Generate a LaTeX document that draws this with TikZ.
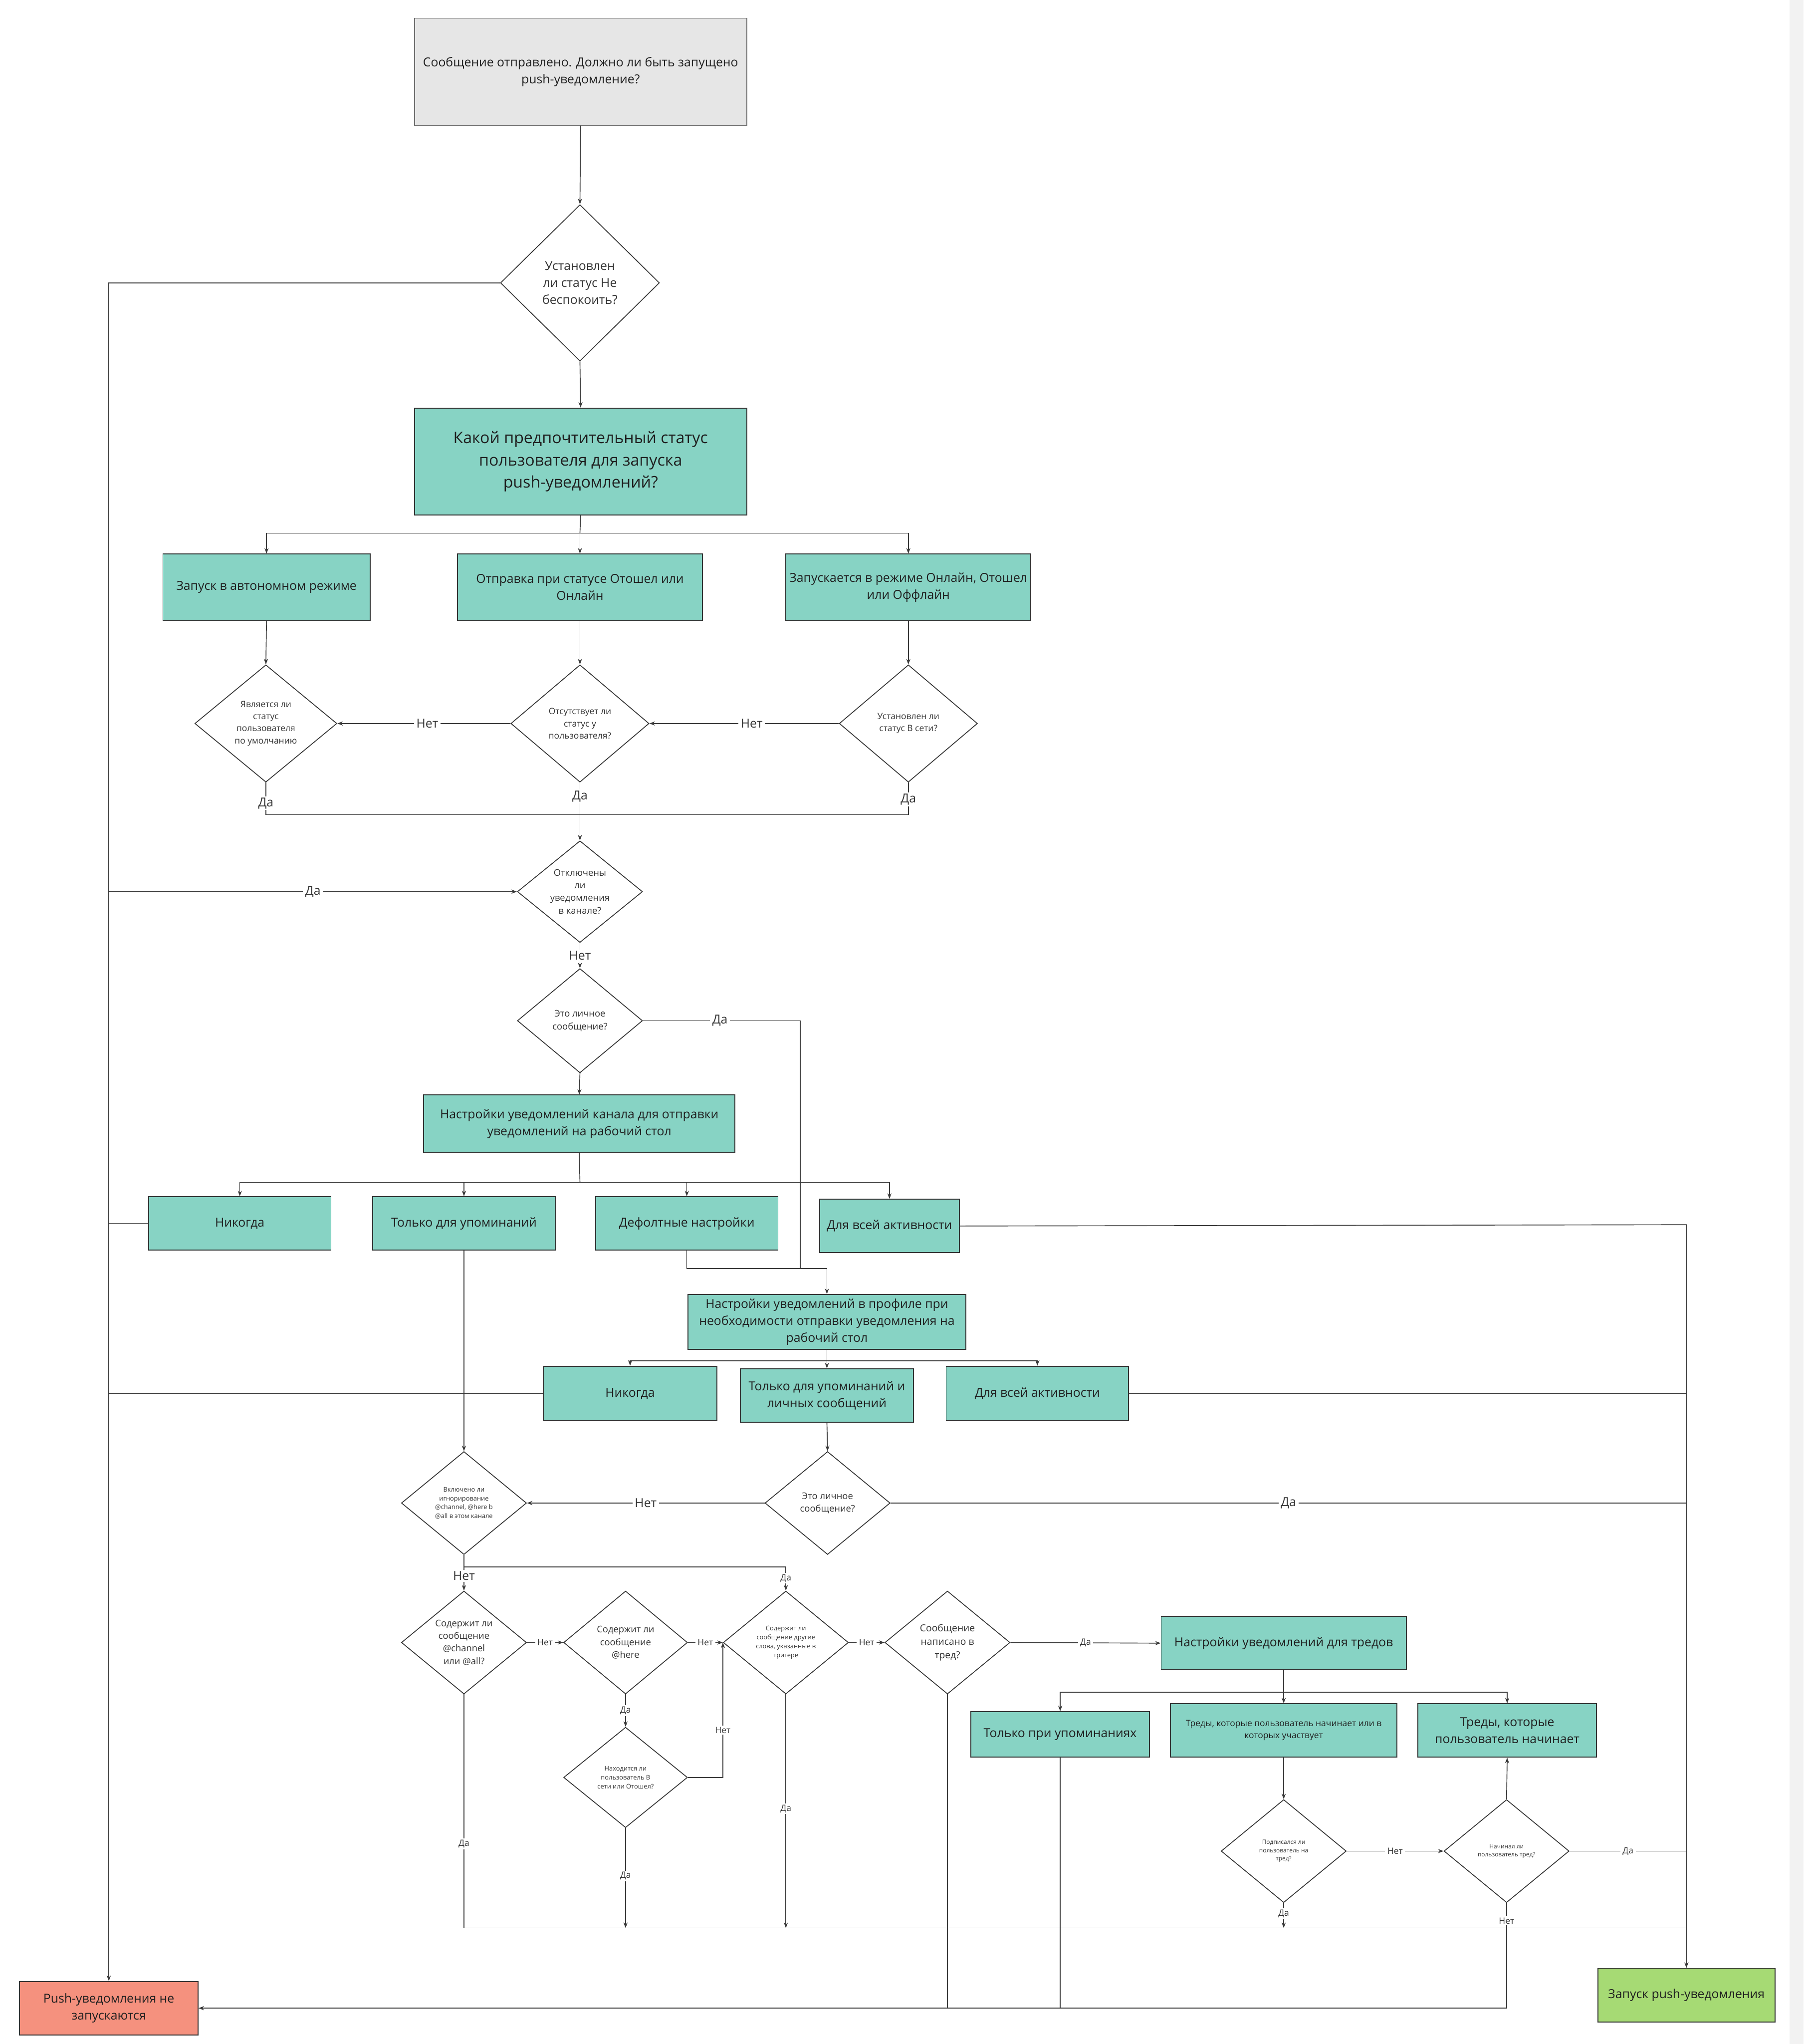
\documentclass[tikz,border=0pt]{standalone}
\usepackage{fontspec}
\setmainfont{Open Sans}
\usetikzlibrary{shapes.geometric,arrows.meta,calc}
\definecolor{boxteal}{HTML}{87D3C4}
\definecolor{topgray}{HTML}{E6E6E6}
\definecolor{redbox}{HTML}{F5917E}
\definecolor{greenbox}{HTML}{A6DA74}
\definecolor{lc}{HTML}{3A3A3A}
\definecolor{bc}{HTML}{333333}
\definecolor{tc}{HTML}{1F1F1F}
\definecolor{dtc}{HTML}{333333}
\definecolor{strip}{HTML}{F2F2F2}
\newcommand\fsz[1]{\fontsize{#1}{\fpeval{1.38*#1}}\selectfont}
\tikzset{
  line/.style={draw=lc, line width=1.8pt},
  arr/.style={line, -{Stealth[length=12pt,width=9pt]}},
  box/.style={rectangle, draw=bc, line width=2pt, fill=boxteal, align=center, text=tc, inner sep=0pt, font=\fsz{27}},
  dia/.style={diamond, draw=bc, line width=1.8pt, fill=white, inner sep=0pt},
  dt/.style={align=center, text=dtc, inner sep=0pt},
  lbl/.style={fill=white, inner xsep=5pt, inner ysep=3pt, text=dtc},
  big/.style={font=\fsz{27}},
  small/.style={font=\fsz{19}},
}
\begin{document}
\begin{tikzpicture}[x=1mm,y=-1mm]
\useasboundingbox (0,0) rectangle (1384,1568);
\fill[white] (0,0) rectangle (1384,1568);
\fill[strip] (1373,0) rectangle (1384,1568);

% ---------- nodes ----------
\node[box, fill=topgray, draw=bc!70, minimum width=255mm, minimum height=82mm] (top) at (445.5,55)
  {Сообщение отправлено. Должно ли быть запущено\\push-уведомление?};
\node[dia, minimum width=122mm, minimum height=120mm] (dnd) at (445,217) {};
\node[dt, font=\fsz{27}] (dndt) at (dnd) {Установлен\\ли статус Не\\беспокоить?};
\node[box, font=\fsz{35}, minimum width=255mm, minimum height=82mm] (pref) at (445.5,354)
  {Какой предпочтительный статус\\пользователя для запуска\\push-уведомлений?};

\node[box, minimum width=159mm, minimum height=51mm] (b1) at (204.5,450.5) {Запуск в автономном режиме};
\node[box, minimum width=188mm, minimum height=51mm] (b2) at (445,450.5) {Отправка при статусе Отошел или\\Онлайн};
\node[box, minimum width=188mm, minimum height=51mm] (b3) at (697,450.5) {Запускается в режиме Онлайн, Отошел\\или Оффлайн};

\node[dia, minimum width=109mm, minimum height=90mm] (d1) at (204,555) {};
\node[dt, font=\fsz{19}] (d1t) at (d1) {Является ли\\статус\\пользователя\\по умолчанию};
\node[dia, minimum width=106mm, minimum height=90mm] (d2) at (445,555) {};
\node[dt, font=\fsz{19}] (d2t) at (d2) {Отсутствует ли\\статус у\\пользователя?};
\node[dia, minimum width=106mm, minimum height=90mm] (d3) at (697,555) {};
\node[dt, font=\fsz{19}] (d3t) at (d3) {Установлен ли\\статус В сети?};

\node[dia, minimum width=96mm, minimum height=78mm] (d4) at (445,684) {};
\node[dt, font=\fsz{20}] (d4t) at (d4) {Отключены\\ли\\уведомления\\в канале?};
\node[dia, minimum width=96mm, minimum height=80mm] (d5) at (445,783) {};
\node[dt, font=\fsz{20}] (d5t) at (d5) {Это личное\\сообщение?};

\node[box, minimum width=239mm, minimum height=44mm] (chan) at (444.5,862)
  {Настройки уведомлений канала для отправки\\уведомлений на рабочий стол};
\node[box, minimum width=140mm, minimum height=41mm] (n1) at (184,938.5) {Никогда};
\node[box, minimum width=140mm, minimum height=41mm] (n2) at (356,938.5) {Только для упоминаний};
\node[box, minimum width=140mm, minimum height=41mm] (n3) at (527,938.5) {Дефолтные настройки};
\node[box, minimum width=107mm, minimum height=41mm] (n4) at (682.5,940.5) {Для всей активности};

\node[box, minimum width=213mm, minimum height=42mm] (prof) at (634.5,1014)
  {Настройки уведомлений в профиле при\\необходимости отправки уведомления на\\рабочий стол};
\node[box, minimum width=133mm, minimum height=42mm] (p1) at (483.5,1069) {Никогда};
\node[box, minimum width=133mm, minimum height=41mm] (p2) at (634.5,1070.5) {Только для упоминаний и\\личных сообщений};
\node[box, minimum width=140mm, minimum height=42mm] (p3) at (796,1069) {Для всей активности};

\node[dia, minimum width=96mm, minimum height=79mm] (d6) at (356,1153) {};
\node[dt, font=\fsz{14}] (d6t) at (d6) {Включено ли\\игнорирование\\@channel, @here b\\@all в этом канале};
\node[dia, minimum width=96mm, minimum height=79mm] (d7) at (635,1153) {};
\node[dt, font=\fsz{20}] (d7t) at (d7) {Это личное\\сообщение?};

\node[dia, minimum width=96mm, minimum height=79mm] (d8) at (356,1260) {};
\node[dt, font=\fsz{20}] (d8t) at (d8) {Содержит ли\\сообщение\\@channel\\или @all?};
\node[dia, minimum width=95mm, minimum height=79mm] (d9) at (480,1260) {};
\node[dt, font=\fsz{20}] (d9t) at (d9) {Содержит ли\\сообщение\\@here};
\node[dia, minimum width=96mm, minimum height=79mm] (d10) at (603,1260) {};
\node[dt, font=\fsz{14}] (d10t) at (d10) {Содержит ли\\сообщение другие\\слова, указанные в\\тригере};
\node[dia, minimum width=96mm, minimum height=79mm] (d11) at (727,1260) {};
\node[dt, font=\fsz{21}] (d11t) at (d11) {Сообщение\\написано в\\тред?};
\node[dia, minimum width=95mm, minimum height=77mm] (d12) at (480,1363.5) {};
\node[dt, font=\fsz{14}] (d12t) at (d12) {Находится ли\\пользователь В\\сети или Отошел?};

\node[box, minimum width=188mm, minimum height=41mm] (thr) at (985,1260.5) {Настройки уведомлений для тредов};
\node[box, minimum width=137mm, minimum height=35mm] (t1) at (813.5,1330.5) {Только при упоминаниях};
\node[box, font=\fsz{19}, minimum width=174mm, minimum height=41mm] (t2) at (985,1327.5) {Треды, которые пользователь начинает или в\\которых участвует};
\node[box, minimum width=137mm, minimum height=41mm] (t3) at (1156.5,1327.5) {Треды, которые\\пользователь начинает};

\node[dia, minimum width=96mm, minimum height=79mm] (d13) at (985,1420) {};
\node[dt, font=\fsz{13}] (d13t) at (d13) {Подписался ли\\пользователь на\\тред?};
\node[dia, minimum width=96mm, minimum height=79mm] (d14) at (1156,1420) {};
\node[dt, font=\fsz{13}] (d14t) at (d14) {Начинал ли\\пользователь тред?};

\node[box, fill=redbox, minimum width=137mm, minimum height=41mm] (red) at (83.5,1540.5) {Push-уведомления не\\запускаются};
\node[box, fill=greenbox, minimum width=136mm, minimum height=41mm] (green) at (1294,1530.5) {Запуск push-уведомления};

% ---------- helper coordinates ----------
\coordinate (L1) at (83.5,217);
\coordinate (R1) at (1294,939.5);
\coordinate (s1) at (445,409);
\coordinate (j1) at (445,625);
\coordinate (k1) at (614,973);
\coordinate (s2) at (445,907);
\coordinate (s3) at (634.5,1044);
\coordinate (s4) at (356,1202);
\coordinate (B1) at (356,1479);
\coordinate (s5) at (985,1298);

% ---------- connectors ----------
\draw[arr] (top.south) -- (dnd.north);
\draw[arr] (dnd.south) -- (pref.north);
\draw[line] (pref.south) -- (s1);
\draw[arr] (s1) -| (b1.north);
\draw[arr] (s1) -- (b2.north);
\draw[arr] (s1) -| (b3.north);
\draw[arr] (b1.south) -- (d1.north);
\draw[arr] (b2.south) -- (d2.north);
\draw[arr] (b3.south) -- (d3.north);
\draw[arr] (d3.west) -- node[lbl,big,pos=0.46]{Нет} (d2.east);
\draw[arr] (d2.west) -- node[lbl,big,pos=0.48]{Нет} (d1.east);
\draw[line] (d1.south) -- node[lbl,big,pos=0.64]{Да} (d1.south |- j1) -- (j1);
\draw[line] (d3.south) -- node[lbl,big,pos=0.52]{Да} (d3.south |- j1) -- (j1);
\draw[arr] (d2.south) -- node[lbl,big,pos=0.24]{Да} (d4.north);

\draw[arr] (dnd.west) -- (L1) -- (red.north);
\draw[arr] (d4.west -| L1) -- node[lbl,big]{Да} (d4.west);
\draw[arr] (d4.south) -- node[lbl,big]{Нет} (d5.north);
\draw[line] (d5.east) -- node[lbl,big,pos=0.49]{Да} (d5.east -| k1) -- (k1);
\draw[arr] (d5.south) -- (chan.north);
\draw[line] (chan.south) -- (s2);
\draw[arr] (s2) -| (n1.north);
\draw[arr] (s2) -| (n2.north);
\draw[arr] (s2) -| (n3.north);
\draw[arr] (s2) -| (n4.north);
\draw[line] (n1.west) -- (n1.west -| L1);
\draw[arr] (n2.south) -- (d6.north);
\draw[arr] (n3.south) |- (prof.north |- k1) -- (prof.north);
\draw[arr] (n4.east) -- (R1) -- (green.north);

\draw[line] (prof.south) -- (s3);
\draw[arr] (s3) -| (p1.north);
\draw[arr] (s3) -- (p2.north);
\draw[arr] (s3) -| (p3.north);
\draw[line] (p1.west) -- (p1.west -| L1);
\draw[line] (p3.east) -- (p3.east -| R1);
\draw[arr] (p2.south) -- (d7.north);
\draw[arr] (d7.west) -- node[lbl,big]{Нет} (d6.east);
\draw[line] (d7.east) -- node[lbl,big]{Да} (d7.east -| R1);

\draw[arr] (d6.south) -- node[lbl,big,pos=0.59]{Нет} (d8.north);
\draw[arr] (s4) -| node[lbl,small,pos=0.74]{Да} (d10.north);
\draw[arr] (d8.east) -- node[lbl,small]{Нет} (d9.west);
\draw[arr] (d9.east) -- node[lbl,small]{Нет} (d10.west);
\draw[arr] (d10.east) -- node[lbl,small]{Нет} (d11.west);
\draw[arr] (d11.east) -- node[lbl,small]{Да} (thr.west);
\draw[arr] (d9.south) -- node[lbl,small]{Да} (d12.north);
\draw[arr] (d12.east) -- (d12.east -| d10.west) -- node[lbl,small,pos=0.35]{Нет} (d10.west);

\draw[line] (d8.south) -- node[lbl,small,pos=0.64]{Да} (B1) -- (B1 -| R1);
\draw[arr] (d12.south) -- node[lbl,small,pos=0.48]{Да} (d12.south |- B1);
\draw[arr] (d10.south) -- node[lbl,small,pos=0.49]{Да} (d10.south |- B1);
\draw[arr] (d13.south) -- node[lbl,small,pos=0.42]{Да} (d13.south |- B1);

\draw[line] (thr.south) -- (s5);
\draw[arr] (s5) -| (t1.north);
\draw[arr] (s5) -- (t2.north);
\draw[arr] (s5) -| (t3.north);
\draw[arr] (t2.south) -- (d13.north);
\draw[arr] (d14.north) -- (t3.south);
\draw[arr] (d13.east) -- node[lbl,small]{Нет} (d14.west);
\draw[line] (d14.east) -- node[lbl,small]{Да} (d14.east -| R1);
\draw[arr] (d14.south) -- node[lbl,small,pos=0.17]{Нет} (d14.south |- red.east) -- (red.east);
\draw[line] (d11.south) -- (d11.south |- red.east);
\draw[line] (t1.south) -- (t1.south |- red.east);
\end{tikzpicture}
\end{document}
